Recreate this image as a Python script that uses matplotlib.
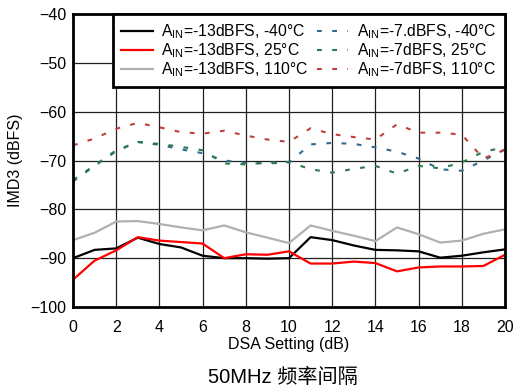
import matplotlib
matplotlib.use("Agg")
import matplotlib.pyplot as plt

plt.rcParams['font.family'] = ['Liberation Sans', 'Noto Sans CJK SC', 'DejaVu Sans']
plt.rcParams['mathtext.default'] = 'regular'

dsa = list(range(0, 21))

m13_n40 = [-90.0, -88.3, -88.0, -85.8, -87.1, -87.8, -89.5, -90.0, -90.0, -90.1, -90.0,
           -85.7, -86.3, -87.4, -88.3, -88.4, -88.6, -89.9, -89.5, -88.8, -88.2]
m13_25 = [-94.4, -90.5, -88.4, -85.7, -86.4, -86.7, -87.0, -90.0, -89.2, -89.3, -88.6,
          -91.1, -91.1, -90.7, -91.0, -92.7, -91.9, -91.7, -91.7, -91.6, -89.3]
m13_110 = [-86.3, -84.8, -82.5, -82.4, -83.0, -83.7, -84.3, -83.3, -84.7, -85.8, -86.9,
           -83.3, -84.4, -85.4, -86.5, -83.7, -85.1, -86.8, -86.4, -85.0, -84.1]
m7_n40 = [-74.3, -71.1, -68.1, -66.2, -66.8, -67.7, -68.5, -70.0, -70.5, -70.6, -70.4,
          -66.7, -66.4, -66.6, -67.3, -68.2, -69.6, -71.8, -72.1, -70.0, -67.7]
m7_25 = [-74.0, -71.0, -67.9, -66.2, -66.6, -67.2, -67.9, -70.6, -70.8, -70.4, -70.3,
         -71.8, -72.5, -71.7, -71.1, -72.7, -71.1, -71.6, -70.4, -68.2, -67.3]
m7_110 = [-66.9, -65.5, -63.5, -62.3, -63.2, -64.2, -64.5, -63.9, -64.9, -65.7, -66.2,
          -63.4, -64.6, -65.2, -65.7, -62.6, -64.3, -64.3, -64.7, -69.6, -67.8]

labels = [r'A$_{IN}$=-13dBFS, -40°C', r'A$_{IN}$=-13dBFS, 25°C', r'A$_{IN}$=-13dBFS, 110°C',
          r'A$_{IN}$=-7.dBFS, -40°C', r'A$_{IN}$=-7dBFS, 25°C', r'A$_{IN}$=-7dBFS, 110°C']
xticks = list(range(0, 21, 2))
yticks = list(range(-100, -39, 10))

fig = plt.figure(figsize=(5.13, 3.9), dpi=100)
ax = fig.add_axes([0.1423, 0.2128, 0.8421, 0.7513])

dash = (2.3, 5.0)
l1, = ax.plot(dsa, m13_n40, color='black', lw=1.6)
l2, = ax.plot(dsa, m13_25, color='#ff0000', lw=1.6)
l3, = ax.plot(dsa, m13_110, color='#b0b0b0', lw=1.6)
l4, = ax.plot(dsa, m7_n40, color='#2f6b8f', lw=1.5, dashes=dash)
l5, = ax.plot(dsa, m7_25, color='#2a7a4c', lw=1.5, dashes=dash)
l6, = ax.plot(dsa, m7_110, color='#bf3f3f', lw=1.5, dashes=dash)

ax.set_xlim(0, 20)
ax.set_ylim(-100, -40)
ax.set_xticks(xticks)
ax.set_yticks(yticks)
ax.grid(True, color='#202020', lw=0.9)
ax.set_axisbelow(True)
ax.tick_params(axis='x', length=0, labelsize=11.5, pad=9, colors='black')
ax.tick_params(axis='y', length=0, labelsize=11.5, pad=5, colors='black')
for s in ax.spines.values():
    s.set_linewidth(2.0)
    s.set_color('black')

ax.set_xlabel('DSA Setting (dB)', fontsize=11.5, labelpad=2)
ax.set_ylabel('IMD3 (dBFS)', fontsize=11.5, labelpad=5)

leg = ax.legend([l1, l2, l3, l4, l5, l6], labels, ncol=2, loc='upper right',
                bbox_to_anchor=(1.0, 1.0), fontsize=11.3, frameon=True, fancybox=False,
                framealpha=1, edgecolor='black', borderaxespad=0, handlelength=2.0,
                handletextpad=0.55, columnspacing=0.5, labelspacing=0.0,
                borderpad=0.55)
leg.get_frame().set_linewidth(2.0)

fig.text(0.5 * (0.1423 + 0.9844) - 0.012, 0.033, '50MHz 频率间隔', ha='center', va='center',
         fontsize=14.5, family=['Liberation Sans', 'Noto Sans CJK SC'])

fig.savefig('out.png', dpi=100)
